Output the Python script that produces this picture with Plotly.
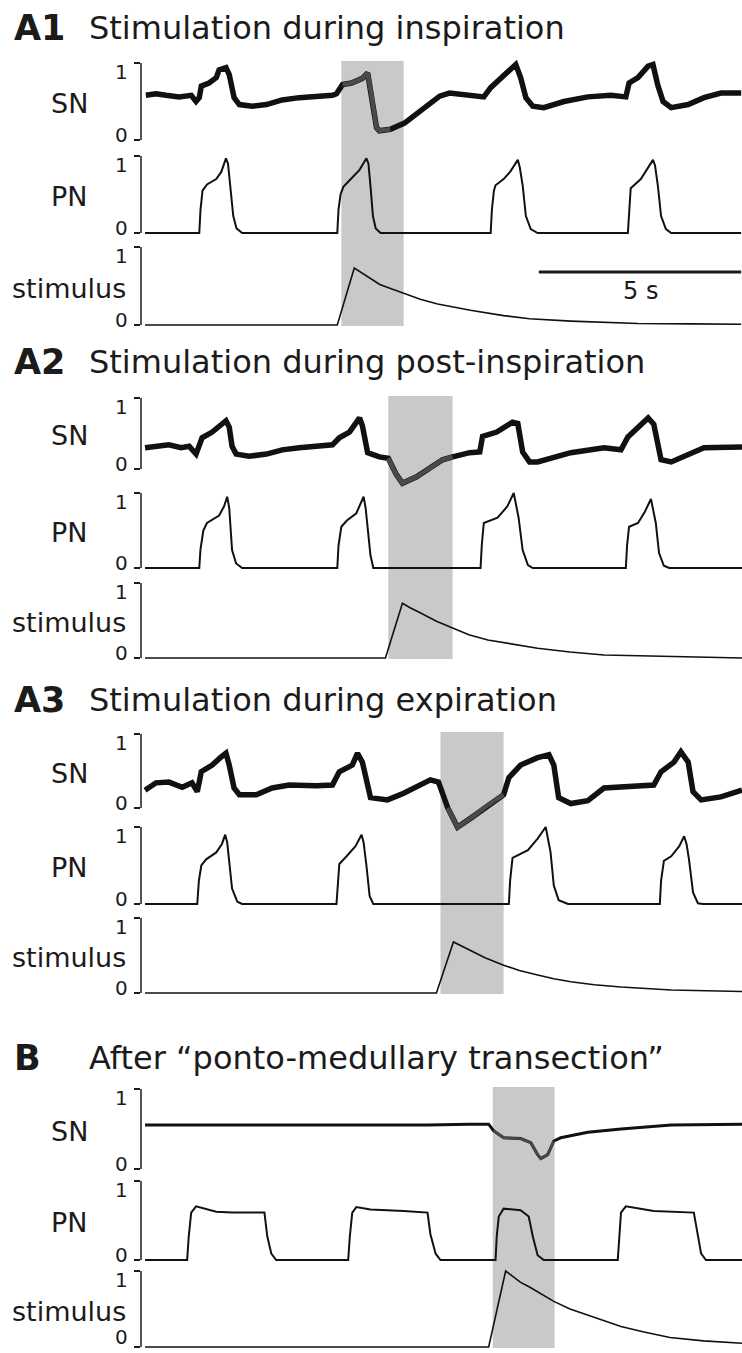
import plotly.graph_objects as go

# ---------------------------------------------------------------- data (time in s, normalised amplitude)
A1_SN_T = [0.02, 0.27, 0.52, 0.84, 1.14, 1.26, 1.34, 1.39, 1.58, 1.76, 1.83, 2.00, 2.08, 2.20, 2.33, 2.65, 3.00,
           3.39, 3.81, 4.23, 4.63, 4.73, 4.88, 5.10, 5.37, 5.50, 5.59, 5.72, 5.79, 6.06, 6.41, 6.78, 7.28, 7.52,
           8.04, 8.37, 8.54, 8.79, 9.03, 9.16, 9.28, 9.41, 9.58, 9.85, 10.35, 10.94, 11.51, 11.88, 11.96, 12.18,
           12.43, 12.55, 12.67, 12.80, 13.00, 13.42, 13.81, 14.23, 14.73]
A1_SN_V = [0.58, 0.60, 0.58, 0.56, 0.58, 0.50, 0.55, 0.70, 0.74, 0.81, 0.91, 0.94, 0.85, 0.55, 0.46, 0.44, 0.46,
           0.52, 0.55, 0.56, 0.58, 0.60, 0.72, 0.74, 0.80, 0.87, 0.60, 0.16, 0.12, 0.14, 0.22, 0.37, 0.57, 0.61,
           0.59, 0.56, 0.68, 0.81, 0.91, 0.98, 0.81, 0.55, 0.44, 0.42, 0.50, 0.56, 0.58, 0.56, 0.74, 0.81,
           0.96, 0.98, 0.71, 0.50, 0.42, 0.46, 0.55, 0.61, 0.61]
A1_PN_T = [0.0, 1.34, 1.37, 1.42, 1.53, 1.76, 1.88, 2.00, 2.05, 2.12, 2.18, 2.26, 2.40,
           4.75, 4.78, 4.83, 4.90, 5.12, 5.30, 5.47, 5.52, 5.58, 5.63, 5.70, 5.82,
           8.54, 8.57, 8.62, 8.66, 8.86, 9.03, 9.21, 9.26, 9.33, 9.41, 9.53, 9.70,
           11.93, 11.96, 12.00, 12.25, 12.40, 12.55, 12.60, 12.67, 12.75, 12.87, 13.00, 14.73]
A1_PN_V = [0.0, 0.0, 0.30, 0.55, 0.63, 0.70, 0.79, 0.97, 0.90, 0.55, 0.22, 0.06, 0.0,
           0.0, 0.30, 0.50, 0.60, 0.72, 0.82, 0.97, 0.90, 0.55, 0.22, 0.06, 0.0,
           0.0, 0.30, 0.55, 0.62, 0.70, 0.80, 0.95, 0.85, 0.62, 0.22, 0.05, 0.0,
           0.0, 0.30, 0.58, 0.70, 0.82, 0.95, 0.88, 0.62, 0.22, 0.05, 0.0, 0.0]
A1_ST_T = [0.0, 4.75, 5.17, 5.40, 5.57, 5.80, 6.10, 6.39, 6.80, 7.23, 7.60, 8.04, 8.86, 9.50, 10.52, 11.30,
           12.18, 13.50, 14.73]
A1_ST_V = [0.0, 0.0, 0.73, 0.65, 0.59, 0.52, 0.46, 0.41, 0.33, 0.27, 0.23, 0.19, 0.12, 0.08, 0.05, 0.035,
           0.02, 0.015, 0.01]
A1_WINDOW = [4.85, 6.39]

A2_SN_T = [0.0, 0.27, 0.59, 0.89, 1.09, 1.26, 1.34, 1.41, 1.66, 1.88, 2.00, 2.08, 2.15, 2.25, 2.57, 3.00, 3.39,
           3.81, 4.23, 4.63, 4.80, 5.05, 5.30, 5.37, 5.50, 5.79, 6.01, 6.21, 6.36, 6.71, 7.03, 7.35, 7.60, 8.02,
           8.27, 8.34, 8.69, 9.08, 9.21, 9.33, 9.50, 9.70, 10.52, 11.34, 11.76, 11.93, 12.43, 12.57, 12.75,
           13.00, 13.81, 14.75]
A2_SN_V = [0.30, 0.32, 0.34, 0.30, 0.32, 0.21, 0.35, 0.44, 0.52, 0.61, 0.68, 0.59, 0.32, 0.21, 0.18, 0.21, 0.27,
           0.30, 0.32, 0.34, 0.44, 0.52, 0.72, 0.61, 0.23, 0.17, 0.15, -0.08, -0.20, -0.11, 0.01, 0.13, 0.17,
           0.23, 0.24, 0.46, 0.52, 0.66, 0.64, 0.24, 0.10, 0.10, 0.23, 0.30, 0.27, 0.45, 0.72, 0.63, 0.13,
           0.10, 0.30, 0.31]
A2_PN_T = [0.0, 1.34, 1.37, 1.44, 1.53, 1.83, 1.95, 2.03, 2.08, 2.10, 2.15, 2.25, 2.40,
           4.75, 4.78, 4.85, 4.98, 5.22, 5.37, 5.40, 5.45, 5.52, 5.57, 5.64,
           8.29, 8.32, 8.37, 8.71, 8.95, 9.11, 9.16, 9.23, 9.33, 9.46, 9.58,
           11.88, 11.91, 11.96, 12.18, 12.35, 12.50, 12.55, 12.62, 12.70, 12.82, 12.95, 14.75]
A2_PN_V = [0.0, 0.0, 0.25, 0.50, 0.60, 0.70, 0.82, 0.95, 0.80, 0.60, 0.24, 0.06, 0.0,
           0.0, 0.30, 0.55, 0.63, 0.73, 0.90, 0.95, 0.80, 0.40, 0.17, 0.0,
           0.0, 0.30, 0.60, 0.67, 0.82, 1.00, 0.85, 0.67, 0.24, 0.04, 0.0,
           0.0, 0.30, 0.55, 0.60, 0.75, 0.92, 0.80, 0.60, 0.20, 0.03, 0.0, 0.0]
A2_ST_T = [0.0, 5.94, 6.36, 6.55, 6.81, 7.20, 7.60, 8.00, 8.47, 9.00, 9.70, 10.50, 11.34, 12.20, 13.00, 14.75]
A2_ST_V = [0.0, 0.0, 0.73, 0.67, 0.60, 0.49, 0.40, 0.31, 0.24, 0.19, 0.13, 0.08, 0.04, 0.03, 0.02, 0.0]
A2_WINDOW = [6.01, 7.60]

A3_SN_T = [0.0, 0.27, 0.59, 0.92, 1.16, 1.29, 1.39, 1.66, 1.88, 2.00, 2.08, 2.20, 2.33, 2.75, 3.14, 3.56, 4.23,
           4.63, 4.80, 5.12, 5.25, 5.37, 5.50, 5.57, 5.99, 6.39, 7.05, 7.25, 7.48, 7.72, 8.04, 8.47, 8.86, 8.99,
           9.28, 9.70, 9.98, 10.10, 10.22, 10.52, 10.94, 11.34, 12.18, 12.57, 12.75, 13.07, 13.24, 13.42,
           13.54, 13.74, 14.23, 14.75]
A3_SN_V = [0.24, 0.34, 0.35, 0.28, 0.34, 0.22, 0.49, 0.58, 0.69, 0.74, 0.58, 0.27, 0.18, 0.18, 0.27, 0.31, 0.30,
           0.31, 0.49, 0.58, 0.74, 0.62, 0.31, 0.14, 0.11, 0.20, 0.38, 0.35, 0.00, -0.26, -0.14, 0.04, 0.18, 0.41,
           0.58, 0.68, 0.72, 0.58, 0.14, 0.06, 0.10, 0.27, 0.30, 0.31, 0.49, 0.62, 0.76, 0.62,
           0.22, 0.11, 0.15, 0.24]
A3_PN_T = [0.0, 1.29, 1.33, 1.39, 1.51, 1.76, 1.90, 1.98, 2.03, 2.08, 2.15, 2.28, 2.40,
           4.73, 4.76, 4.80, 4.98, 5.20, 5.35, 5.40, 5.47, 5.55, 5.64,
           8.99, 9.02, 9.08, 9.46, 9.70, 9.90, 9.95, 10.02, 10.10, 10.22, 10.45,
           12.72, 12.75, 12.82, 13.00, 13.20, 13.32, 13.38, 13.44, 13.54, 13.66, 13.79, 14.75]
A3_PN_V = [0.0, 0.0, 0.30, 0.50, 0.58, 0.67, 0.78, 0.90, 0.80, 0.58, 0.20, 0.03, 0.0,
           0.0, 0.30, 0.52, 0.62, 0.75, 0.90, 0.80, 0.50, 0.10, 0.0,
           0.0, 0.30, 0.60, 0.70, 0.85, 1.00, 0.85, 0.67, 0.24, 0.05, 0.0,
           0.0, 0.30, 0.56, 0.62, 0.75, 0.88, 0.78, 0.58, 0.15, 0.01, 0.0, 0.0]
A3_ST_T = [0.0, 7.20, 7.62, 7.80, 8.04, 8.40, 8.86, 9.25, 9.70, 10.10, 10.52, 11.10, 11.76, 12.40, 13.00, 14.75]
A3_ST_V = [0.0, 0.0, 0.68, 0.63, 0.57, 0.47, 0.37, 0.30, 0.24, 0.19, 0.15, 0.11, 0.08, 0.055, 0.04, 0.02]
A3_WINDOW = [7.30, 8.86]

B_SN_T = [0.0, 1.0, 2.0, 3.0, 4.0, 5.0, 6.0, 7.0, 8.0, 8.49, 8.61, 8.86, 9.28, 9.53, 9.70, 9.78, 9.95, 10.10,
          10.27, 10.94, 11.76, 13.00, 14.75]
B_SN_V = [0.55, 0.55, 0.55, 0.55, 0.55, 0.55, 0.55, 0.55, 0.56, 0.56, 0.48, 0.39, 0.38, 0.33, 0.18, 0.13, 0.18, 0.35,
          0.39, 0.46, 0.50, 0.55, 0.56]
B_PN_T = [0.0, 1.04, 1.08, 1.14, 1.26, 1.76, 2.15, 2.95, 3.02, 3.12, 3.24,
          5.02, 5.06, 5.12, 5.22, 5.57, 6.39, 6.98, 7.05, 7.18, 7.30,
          8.66, 8.69, 8.74, 8.86, 9.28, 9.48, 9.58, 9.70, 9.85,
          11.68, 11.72, 11.76, 11.88, 12.57, 13.56, 13.66, 13.74, 13.86, 14.75]
B_PN_V = [0.0, 0.0, 0.30, 0.60, 0.68, 0.61, 0.60, 0.60, 0.30, 0.08, 0.0,
          0.0, 0.30, 0.60, 0.67, 0.64, 0.62, 0.60, 0.33, 0.08, 0.0,
          0.0, 0.30, 0.55, 0.65, 0.63, 0.55, 0.30, 0.06, 0.0,
          0.0, 0.30, 0.60, 0.68, 0.62, 0.60, 0.30, 0.08, 0.0, 0.0]
B_ST_T = [0.0, 8.49, 8.91, 9.28, 9.50, 9.70, 10.10, 10.50, 10.94, 11.35, 11.76, 12.30, 12.97, 13.80, 14.75]
B_ST_V = [0.0, 0.0, 1.00, 0.85, 0.79, 0.73, 0.60, 0.50, 0.42, 0.34, 0.27, 0.20, 0.125, 0.08, 0.05]
B_WINDOW = [8.59, 10.12]

PANEL_KEYS = ["A1", "A2", "A3", "B"]
PANEL_TITLES = ["Stimulation during inspiration", "Stimulation during post-inspiration",
                "Stimulation during expiration", "After \u201cponto-medullary transection\u201d"]
ROW_LABELS = ["SN", "PN", "stimulus"]
TICK_VALUES = [0, 1]
TICK_TEXT = ["0", "1"]
SCALE_BAR_SECONDS = 5
SCALE_BAR_START = 9.73
SCALE_BAR_LABEL = "5 s"

TRACES = {
    "A1": [(A1_SN_T, A1_SN_V), (A1_PN_T, A1_PN_V), (A1_ST_T, A1_ST_V)],
    "A2": [(A2_SN_T, A2_SN_V), (A2_PN_T, A2_PN_V), (A2_ST_T, A2_ST_V)],
    "A3": [(A3_SN_T, A3_SN_V), (A3_PN_T, A3_PN_V), (A3_ST_T, A3_ST_V)],
    "B": [(B_SN_T, B_SN_V), (B_PN_T, B_PN_V), (B_ST_T, B_ST_V)],
}
WINDOWS = {"A1": A1_WINDOW, "A2": A2_WINDOW, "A3": A3_WINDOW, "B": B_WINDOW}

# ---------------------------------------------------------------- layout (pixels)
W, H = 742, 1353
FONT = "DejaVu Sans"
INK = "#1b1b1b"
SHADE = "#c9c9c9"
X_LEFT_PX, X_RIGHT_PX = 141, 742
X_RANGE = [-0.1, 14.75]
# pixel row of value 1 and value 0 for each row of each panel
GEOM = {
    "A1": dict(title=28, rows=[(63, 140), (156, 233), (247, 325)]),
    "A2": dict(title=362, rows=[(398, 469), (493, 568), (583, 658)]),
    "A3": dict(title=700, rows=[(734, 808), (827, 904), (918, 993)]),
    "B": dict(title=1058, rows=[(1089, 1169), (1181, 1260), (1271, 1347)]),
}
ROW_RANGES = [(-0.45, 1.12), (-0.04, 1.1), (-0.04, 1.1)]
LINE_W = [5.5, 2.0, 1.6]
B_SN_W = 3.0
TICK_FONT = 20
# tick-label offsets (px): labels sit just inside the bracket ends
LABEL_SHIFT = {0: 5, 1: -9}


def fy(px):
    return 1 - px / H


def sfx(k):
    return "" if k == 1 else str(k)


fig = go.Figure()
layout = dict(
    width=W, height=H, margin=dict(l=0, r=0, t=0, b=0),
    paper_bgcolor="white", plot_bgcolor="rgba(0,0,0,0)", showlegend=False,
    font=dict(family=FONT, color=INK),
)
shapes, annotations = [], []
xdom = [X_LEFT_PX / W, X_RIGHT_PX / W]
n = 0
for p, key in enumerate(PANEL_KEYS):
    g = GEOM[key]
    first_axis = n + 1
    for r in range(3):
        n += 1
        p1, p0 = g["rows"][r]
        s = p0 - p1
        lo, hi = ROW_RANGES[r]
        dom = [max(0.0, fy(p0 - lo * s)), fy(p1 - (hi - 1) * s)]
        xs = sfx(n)
        layout["xaxis" + xs] = dict(domain=xdom, range=X_RANGE, anchor="y" + xs, visible=False, fixedrange=True)
        layout["yaxis" + xs] = dict(domain=dom, range=[lo, hi], anchor="x" + xs, showgrid=False, zeroline=False,
                                    showline=False, tickvals=TICK_VALUES, showticklabels=False,
                                    ticks="outside", ticklen=6, tickwidth=1.5, tickcolor=INK, fixedrange=True)
        shapes.append(dict(type="line", xref="x" + xs + " domain", yref="y" + xs, x0=0, x1=0, y0=0, y1=1,
                           line=dict(color=INK, width=1.5)))
        for tv, tt in zip(TICK_VALUES, TICK_TEXT):
            shift = LABEL_SHIFT[tv]
            if tv == 0:
                # keep the whole label box inside the page at the very bottom
                shift = max(shift, p0 + 15 - (H - 1))
            annotations.append(dict(text=tt, xref="x" + xs + " domain", yref="y" + xs, x=0, y=tv,
                                    xanchor="right", yanchor="middle", xshift=-11, yshift=shift,
                                    showarrow=False, font=dict(family=FONT, size=TICK_FONT, color=INK)))
        t, v = TRACES[key][r]
        width = LINE_W[r] if not (key == "B" and r == 0) else B_SN_W
        fig.add_trace(go.Scatter(x=t, y=v, mode="lines", xaxis="x" + xs, yaxis="y" + xs,
                                 line=dict(color="#111111", width=width), hoverinfo="skip"))
        if r == 0:
            w0, w1 = WINDOWS[key]
            seg = [(ti, vi) for ti, vi in zip(t, v) if w0 <= ti <= w1]
            fig.add_trace(go.Scatter(x=[a for a, _ in seg], y=[b for _, b in seg], mode="lines",
                                     xaxis="x" + xs, yaxis="y" + xs,
                                     line=dict(color="#4a4a4a", width=width * 0.8), hoverinfo="skip"))
        annotations.append(dict(text=ROW_LABELS[r], x=69 / W, y=fy((p1 + p0) / 2 + 2), xref="paper",
                                yref="paper", xanchor="center", yanchor="middle", showarrow=False,
                                font=dict(family=FONT, size=27, color=INK)))
    # shaded stimulation window
    w0, w1 = WINDOWS[key]
    shapes.append(dict(type="rect", xref="x" + sfx(first_axis), yref="paper", x0=w0, x1=w1,
                       y0=fy(g["rows"][2][1] + 1), y1=fy(g["rows"][0][0] - 2),
                       fillcolor=SHADE, line=dict(width=0), layer="below"))
    annotations.append(dict(text=f"<b>{key}</b>", x=12 / W, y=fy(g["title"]), xref="paper", yref="paper",
                            xanchor="left", yanchor="middle", showarrow=False,
                            font=dict(family=FONT, size=35, color=INK)))
    annotations.append(dict(text=PANEL_TITLES[p], x=87 / W, y=fy(g["title"]), xref="paper", yref="paper",
                            xanchor="left", yanchor="middle", showarrow=False,
                            font=dict(family=FONT, size=32, color=INK)))

# scale bar on A1 stimulus row
shapes.append(dict(type="line", xref="x3", yref="y3", x0=SCALE_BAR_START, x1=SCALE_BAR_START + SCALE_BAR_SECONDS,
                   y0=0.68, y1=0.68, line=dict(color=INK, width=3)))
annotations.append(dict(text=SCALE_BAR_LABEL, x=SCALE_BAR_START + SCALE_BAR_SECONDS / 2, y=0.44, xref="x3",
                        yref="y3", xanchor="center", yanchor="middle", showarrow=False,
                        font=dict(family=FONT, size=24, color=INK)))

layout["shapes"] = shapes
layout["annotations"] = annotations
fig.update_layout(**layout)
# remove the browser's default 8px page margin so the figure fills the window exactly
fig.write_html("out.html", config={"displayModeBar": False},
               post_script="document.body.style.margin='0';document.body.style.overflow='hidden';")
